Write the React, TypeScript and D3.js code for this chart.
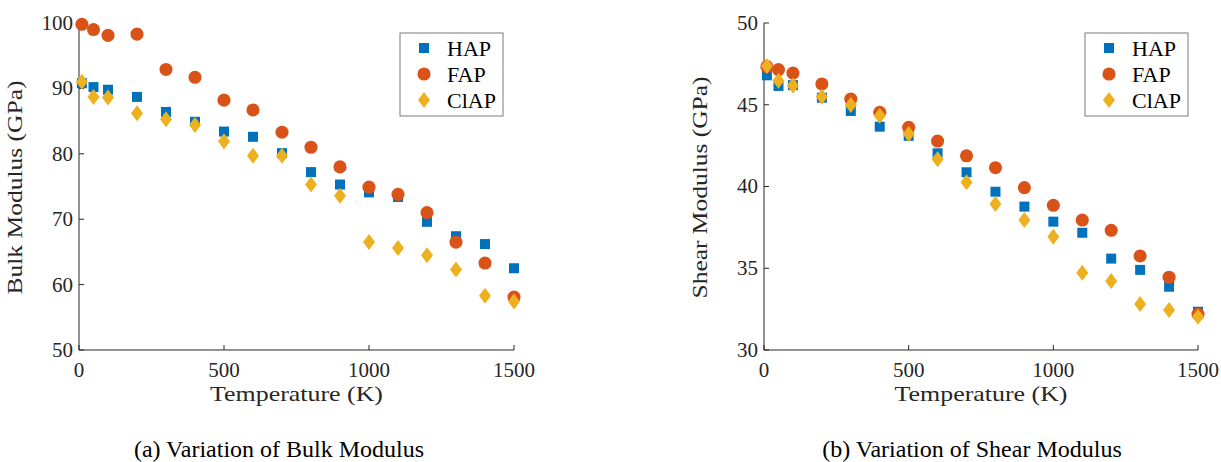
import React from 'react'
import * as d3 from 'd3'

// temperatures (K)
const temps = [10, 50, 100, 200, 300, 400, 500, 600, 700, 800, 900, 1000, 1100, 1200, 1300, 1400, 1500]

const seriesNames = ['HAP', 'FAP', 'ClAP']
const colors = ['#0072BD', '#D95319', '#EDB120']

// bulk modulus (GPa)
const bulkHAP = [90.8, 90.2, 89.8, 88.7, 86.4, 84.9, 83.4, 82.6, 80.1, 77.2, 75.3, 74.1, 73.4, 69.6, 67.4, 66.2, 62.5]
const bulkFAP = [99.8, 99.0, 98.1, 98.3, 92.9, 91.7, 88.2, 86.7, 83.3, 81.0, 78.0, 74.9, 73.8, 71.0, 66.5, 63.3, 58.1]
const bulkClAP = [91.0, 88.7, 88.6, 86.2, 85.3, 84.4, 81.9, 79.7, 79.7, 75.3, 73.6, 66.5, 65.6, 64.5, 62.3, 58.3, 57.4]

// shear modulus (GPa)
const shearHAP = [46.8, 46.15, 46.2, 45.43, 44.62, 43.66, 43.1, 42.03, 40.87, 39.68, 38.77, 37.85, 37.17, 35.59, 34.9, 33.87, 32.34]
const shearFAP = [47.33, 47.15, 46.94, 46.27, 45.35, 44.54, 43.62, 42.78, 41.88, 41.15, 39.93, 38.85, 37.95, 37.32, 35.75, 34.45, 32.2]
const shearClAP = [47.37, 46.47, 46.17, 45.49, 44.98, 44.33, 43.21, 41.66, 40.26, 38.93, 37.95, 36.93, 34.73, 34.22, 32.81, 32.45, 32.04]

const xTicks = [0, 500, 1000, 1500]
const bulkTicks = [50, 60, 70, 80, 90, 100]
const shearTicks = [30, 35, 40, 45, 50]

const FONT = '"Liberation Serif", "DejaVu Serif", serif'
const AXIS = '#262626'

const symbols = [
  { path: d3.symbol(d3.symbolSquare, 100)(), tf: '' },
  { path: d3.symbol(d3.symbolCircle, 135)(), tf: '' },
  { path: d3.symbol(d3.symbolDiamond, 74)(), tf: ' scale(1.3,1)' },
]

function Panel({ x0, x1, yDomain, yTicks, ylabel, ylabelLen, data, legendX, caption, captionX }) {
  const top = 23, bottom = 350
  const x = d3.scaleLinear().domain([0, 1500]).range([x0, x1])
  const y = d3.scaleLinear().domain(yDomain).range([bottom, top])
  const lgW = 103, lgH = 83, lgY = 33
  return (
    <g>
      {/* axes, ticks pointing inward */}
      <line x1={x0} x2={x1} y1={bottom} y2={bottom} stroke={AXIS} strokeWidth={1} />
      <line x1={x0} x2={x0} y1={top} y2={bottom} stroke={AXIS} strokeWidth={1} />
      {xTicks.map(t => (
        <g key={'x' + t}>
          <line x1={x(t)} x2={x(t)} y1={bottom} y2={bottom - 5} stroke={AXIS} />
          <text x={x(t)} y={377} textAnchor="middle" fontSize={21} fill={AXIS}>{t}</text>
        </g>
      ))}
      {yTicks.map(t => (
        <g key={'y' + t}>
          <line x1={x0} x2={x0 + 5} y1={y(t)} y2={y(t)} stroke={AXIS} />
          <text x={x0 - 6} y={y(t)} dy="0.33em" textAnchor="end" fontSize={21} fill={AXIS}>{t}</text>
        </g>
      ))}
      <text x={(x0 + x1) / 2} y={401} textAnchor="middle" fontSize={22} fill={AXIS}
        textLength={173} lengthAdjust="spacingAndGlyphs">Temperature (K)</text>
      <text transform={`translate(${x0 - 57},${(top + bottom) / 2 + 1}) rotate(-90)`} textAnchor="middle" fontSize={22} fill={AXIS}
        textLength={ylabelLen} lengthAdjust="spacingAndGlyphs">{ylabel}</text>

      {/* markers */}
      {data.map((vals, si) => (
        <g key={si} fill={colors[si]}>
          {vals.map((v, i) => (
            <path key={i} d={symbols[si].path} transform={`translate(${x(temps[i])},${y(v)})${symbols[si].tf}`} />
          ))}
        </g>
      ))}

      {/* legend */}
      <rect x={legendX} y={lgY} width={lgW} height={lgH} fill="#fff" stroke="#7a7a7a" strokeWidth={1} />
      {seriesNames.map((n, i) => (
        <g key={n}>
          <path d={symbols[i].path} fill={colors[i]} transform={`translate(${legendX + 24},${lgY + 15 + i * 26})${symbols[i].tf}`} />
          <text x={legendX + 47} y={lgY + 15 + i * 26} dy="0.35em" fontSize={22} fill="#000">{n}</text>
        </g>
      ))}

      <text x={captionX} y={457} textAnchor="middle" fontSize={24} fill="#000">{caption}</text>
    </g>
  )
}

export default function App() {
  return (
    <svg width={1221} height={462} style={{ position: 'absolute', left: 0, top: 0, fontFamily: FONT, background: '#fff' }}>
      <rect width={1221} height={462} fill="#fff" />
      <Panel x0={79} x1={514} yDomain={[50, 100]} yTicks={bulkTicks} ylabel="Bulk Modulus (GPa)" ylabelLen={214}
        data={[bulkHAP, bulkFAP, bulkClAP]} legendX={400} caption="(a) Variation of Bulk Modulus" captionX={279} />
      <Panel x0={764} x1={1198} yDomain={[30, 50]} yTicks={shearTicks} ylabel="Shear Modulus (GPa)" ylabelLen={222}
        data={[shearHAP, shearFAP, shearClAP]} legendX={1085} caption="(b) Variation of Shear Modulus" captionX={972} />
    </svg>
  )
}
